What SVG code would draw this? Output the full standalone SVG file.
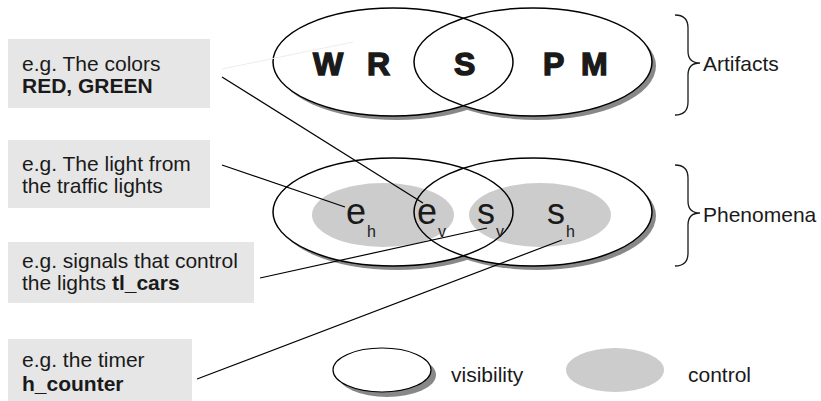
<svg xmlns="http://www.w3.org/2000/svg" width="821" height="401" viewBox="0 0 821 401">
<style>
.txt{font-family:"Liberation Sans",Arial,sans-serif;font-size:21px;fill:#1a1a1a}
.b{font-weight:bold}
.big{font-family:"Liberation Sans",Arial,sans-serif;font-weight:bold;font-size:32px;fill:#1a1a1a;stroke:#1a1a1a;stroke-width:1.4px}
.sym{font-family:"Liberation Sans",Arial,sans-serif;font-size:36px;fill:#1a1a1a}
.sub{font-family:"Liberation Sans",Arial,sans-serif;font-size:16px;fill:#1a1a1a}
.box{fill:#e6e6e6}
.shadow{fill:#888888}
.white{fill:#ffffff}
.outline{fill:none;stroke:#000;stroke-width:1.5}
.ctrl{fill:#cccccc}
.conn{fill:none;stroke:#000;stroke-width:1.2}
.faint{fill:none;stroke:#ececec;stroke-width:1}
.brace{fill:none;stroke:#1a1a1a;stroke-width:1.3}
</style>

<g id="artifacts">
  <ellipse class="shadow" cx="397" cy="66" rx="120" ry="54"/>
  <ellipse class="shadow" cx="537" cy="66" rx="119" ry="54"/>
  <ellipse class="white" cx="393" cy="62" rx="120" ry="54"/>
  <ellipse class="white" cx="533" cy="62" rx="119" ry="54"/>
  <ellipse class="outline" cx="393" cy="62" rx="120" ry="54"/>
  <ellipse class="outline" cx="533" cy="62" rx="119" ry="54"/>
  <text class="big" x="313" y="75">W</text>
  <text class="big" x="367" y="75">R</text>
  <text class="big" x="454" y="75">S</text>
  <text class="big" x="543" y="75">P</text>
  <text class="big" x="581" y="75">M</text>
</g>

<g id="phenomena">
  <ellipse class="shadow" cx="397" cy="216" rx="120" ry="54"/>
  <ellipse class="shadow" cx="537" cy="216" rx="119" ry="54"/>
  <ellipse class="white" cx="393" cy="212" rx="120" ry="54"/>
  <ellipse class="white" cx="533" cy="212" rx="119" ry="54"/>
  <ellipse class="ctrl" cx="383" cy="215" rx="71" ry="32"/>
  <ellipse class="ctrl" cx="540" cy="215" rx="71" ry="32"/>
  <ellipse class="outline" cx="393" cy="212" rx="120" ry="54"/>
  <ellipse class="outline" cx="533" cy="212" rx="119" ry="54"/>
  <text class="sym" x="346" y="224">e</text><text class="sub" x="367" y="237">h</text>
  <text class="sym" x="417" y="224">e</text><text class="sub" x="438" y="237">v</text>
  <text class="sym" x="477" y="224">s</text><text class="sub" x="496" y="237">v</text>
  <text class="sym" x="547" y="224">s</text><text class="sub" x="566" y="237">h</text>
</g>

<g id="label-colors">
  <rect class="box" x="8" y="39" width="202" height="69"/>
  <text class="txt" x="22" y="71">e.g. The colors</text>
  <text class="txt b" x="22" y="93">RED, GREEN</text>
</g>

<g id="label-light">
  <rect class="box" x="8" y="140" width="202" height="68"/>
  <text class="txt" x="22" y="171">e.g. The light from</text>
  <text class="txt" x="22" y="193">the traffic lights</text>
</g>

<g id="label-signals">
  <rect class="box" x="8" y="242" width="246" height="61"/>
  <text class="txt" x="22" y="268">e.g. signals that control</text>
  <text class="txt" x="22" y="290">the lights <tspan class="b">tl_cars</tspan></text>
</g>

<g id="label-timer">
  <rect class="box" x="8" y="339" width="184" height="62"/>
  <text class="txt" x="22" y="367">e.g. the timer</text>
  <text class="txt b" x="22" y="391">h_counter</text>
</g>

<g id="brace-artifacts">
  <path class="brace" d="M675,15 Q688,15 688,28 L688,51 Q688,63 700,63 Q688,63 688,75 L688,102 Q688,115 675,115"/>
  <text class="txt" x="703" y="71">Artifacts</text>
</g>

<g id="brace-phenomena">
  <path class="brace" d="M675,165 Q688,165 688,178 L688,201 Q688,213 700,213 Q688,213 688,225 L688,253 Q688,266 675,266"/>
  <text class="txt" x="703" y="222">Phenomena</text>
</g>

<g id="legend-visibility">
  <ellipse class="shadow" cx="387" cy="375" rx="49" ry="22"/>
  <ellipse class="white" cx="382" cy="370" rx="49" ry="22"/>
  <ellipse class="outline" cx="382" cy="370" rx="49" ry="22" style="stroke-width:1.2"/>
  <text class="txt" x="451" y="382">visibility</text>
</g>

<g id="legend-control">
  <ellipse class="ctrl" cx="615" cy="370" rx="49" ry="22"/>
  <text class="txt" x="688" y="382">control</text>
</g>

<g id="connectors">
  <line class="faint" x1="222" y1="69" x2="353" y2="42"/>
  <line class="conn" x1="222" y1="77" x2="423" y2="203"/>
  <line class="conn" x1="222" y1="165" x2="345" y2="207"/>
  <line class="conn" x1="260" y1="278" x2="487" y2="228"/>
  <line class="conn" x1="197" y1="379" x2="562" y2="240"/>
</g>
</svg>
